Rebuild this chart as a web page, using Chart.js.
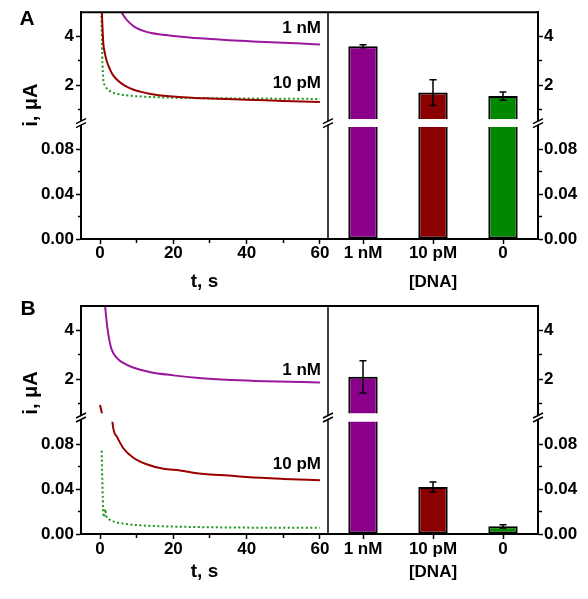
<!DOCTYPE html>
<html><head><meta charset="utf-8">
<script src="https://cdn.jsdelivr.net/npm/chart.js@4.4.1/dist/chart.umd.min.js"></script>
<style>
html,body{margin:0;padding:0;background:#fff;width:588px;height:599px;overflow:hidden}
canvas{position:absolute;left:0}
</style></head><body>
<canvas id="cA" width="588" height="293" style="top:0px"></canvas>
<canvas id="cB" width="588" height="306" style="top:293px"></canvas>
<script>
// ---------- data ----------
const categories = ['1 nM', '10 pM', '0'];
const timeTicks = [0, 20, 40, 60];
const upperTicks = [2, 4];
const lowerTicks = [0, 0.04, 0.08];

// Panel A transients (t in s, i in µA)
const tA_1nM  = [5.5, 6, 7, 8, 9, 10, 12, 14, 16, 18, 20, 25, 30, 35, 40, 45, 50, 55, 60];
const iA_1nM  = [5.15, 4.97, 4.74, 4.57, 4.44, 4.34, 4.22, 4.14, 4.09, 4.06, 4.02, 3.95, 3.9, 3.85, 3.81, 3.77, 3.74, 3.71, 3.67];
const tA_10pM = [0.4, 0.6, 0.9, 1.2, 1.8, 2.7, 3.5, 4.5, 6, 7.5, 9, 11, 13.5, 16, 20, 25, 30, 40, 50, 60];
const iA_10pM = [5.4, 4.6, 3.7, 3.4, 3.0, 2.65, 2.42, 2.24, 2.05, 1.92, 1.82, 1.73, 1.64, 1.58, 1.53, 1.48, 1.45, 1.4, 1.35, 1.3];
const tA_0    = [0.3, 0.6, 0.9, 1.3, 1.8, 2.5, 3.5, 5, 7, 10, 14, 20, 30, 40, 50, 60];
const iA_0    = [5.4, 3.2, 2.2, 2.0, 1.87, 1.77, 1.69, 1.63, 1.58, 1.54, 1.51, 1.48, 1.46, 1.45, 1.44, 1.43];

// Panel B transients
const tB_1nM  = [1.3, 2, 2.6, 3.2, 4.5, 6, 9, 13.5, 20, 27, 36, 45, 60];
const iB_1nM  = [5.1, 4.1, 3.55, 3.2, 2.89, 2.7, 2.48, 2.3, 2.16, 2.05, 1.97, 1.92, 1.87];
const tB_10pM = [0, 0.55, 1.2, 2, 3, 3.4, 4.5, 6.4, 9, 12.7, 17.3, 21.8, 26.4, 30, 35, 40, 50, 60];
const iB_10pM = [0.95, 0.6, 0.38, 0.22, 0.13, 0.099, 0.087, 0.076, 0.068, 0.062, 0.058, 0.0565, 0.054, 0.053, 0.052, 0.0507, 0.049, 0.0477];
const tB_0    = [0.45, 0.6, 0.9, 1.1, 1.4, 1.7, 2.5, 3.6, 6.4, 10.9, 17.3, 26, 35, 45, 60];
const iB_0    = [0.074, 0.05, 0.018, 0.015, 0.022, 0.016, 0.013, 0.0112, 0.0092, 0.0077, 0.0068, 0.0062, 0.0058, 0.0056, 0.0055];

// Bar values and errors
const barsA = [3.6, 1.69, 1.55];
const errA  = [0.06, 0.53, 0.17];
const barsB = [2.1, 0.0418, 0.0068];
const errB  = [0.66, 0.0045, 0.0015];

// ---------- styles ----------
const FONT = "'Liberation Sans', Arial, Helvetica, sans-serif";
const LINE_COL = {p: '#9b169b', r: '#990000', g: '#1a961a'};
const BAR_COL = ['#8b008b', '#8b0000', '#008800'];
const tickFont = {family: FONT, size: 17, weight: 'bold'};

function pts(t, v) { return t.map((x, k) => ({x: x, y: v[k]})); }
function near(list, v) { return list.some(t => Math.abs(t - v) < 1e-9); }

function lineSet(t, v, color, dotted, yID) {
  return {type: 'line', data: pts(t, v), xAxisID: 'xt', yAxisID: yID,
    borderColor: color, borderWidth: 2, borderDash: dotted ? [2, 2.5] : [],
    pointRadius: 0, cubicInterpolationMode: 'monotone', tension: 0.4, fill: false, order: 0};
}
function barSet(vals, yID) {
  return {type: 'bar', data: vals, xAxisID: 'xc', yAxisID: yID,
    backgroundColor: BAR_COL, borderColor: '#000', borderWidth: 2, borderSkipped: false,
    grouped: false, barPercentage: 0.42, categoryPercentage: 1, order: 1};
}

// minor ticks drawn shorter via a dash pattern
function minorDash(pos, isMinor) {
  return c => {
    if (!c.tick || !isMinor(c.tick.value)) return [];
    return pos === 'left' ? [0, 2, 20, 0] : [3, 20];
  };
}

function makeY(pos, seg, wt, width, pad) {
  const isTop = seg === 'top', isGap = seg === 'gap';
  const base = {type: 'linear', axis: 'y', position: pos, stack: pos,
    stackWeight: isTop ? 107 : (isGap ? 8 : 112), weight: wt, z: 1,
    afterFit: s => { s.width = width; },
    border: {display: true, color: '#000', width: 2}};
  if (isGap) {
    return Object.assign(base, {min: 0, max: 1, ticks: {display: false}, grid: {display: false}});
  }
  const labels = isTop ? upperTicks : lowerTicks;
  return Object.assign(base, {
    min: isTop ? 0.6 : 0, max: isTop ? 5 : 0.1,
    ticks: {stepSize: isTop ? 1 : 0.02, includeBounds: false, autoSkip: false, padding: pad,
      color: '#000', font: tickFont,
      callback: v => near(labels, v) ? (isTop ? String(v) : v.toFixed(2)) : ''},
    grid: {display: true, drawOnChartArea: false, drawTicks: true, tickLength: 5, tickWidth: 1.5,
      tickBorderDash: minorDash(pos, v => !near(labels, v)),
      tickColor: c => (c.tick && ((isTop && c.tick.value > 4.99) || (!isTop && c.tick.value > 0.099))) ? 'rgba(0,0,0,0)' : '#000'}
  });
}

function makeScales(P) {
  const titleFont = {family: FONT, size: 17, weight: 'bold'};
  return {
    xt: {type: 'linear', axis: 'x', position: 'bottom', stack: 'bottom', stackWeight: 247, weight: 1, z: 1,
      min: -5.2, max: 62.2, offset: false,
      afterFit: s => { s.height = P.xh; },
      ticks: {stepSize: 10, includeBounds: false, autoSkip: false, maxRotation: 0, padding: P.xpad,
        color: '#000', font: tickFont, callback: v => near(timeTicks, v) ? String(v) : ''},
      grid: {drawOnChartArea: false, tickLength: 5, tickWidth: 1.5, tickColor: '#000', offset: false,
        tickBorderDash: minorDash('bottom', v => !near(timeTicks, v))},
      border: {display: true, color: '#000', width: 2},
      title: {display: true, text: 't, s', color: '#000', font: {family: FONT, size: 19, weight: 'bold'}, padding: {top: 0, bottom: P.tpad}}},
    xc: {type: 'category', axis: 'x', position: 'bottom', stack: 'bottom', stackWeight: 210, weight: 2, z: 1,
      offset: true,
      afterFit: s => { s.height = P.xh; },
      ticks: {autoSkip: false, maxRotation: 0, padding: P.xpad, color: '#000', font: tickFont},
      grid: {drawOnChartArea: false, tickLength: 5, tickWidth: 1.5, tickColor: '#000', offset: false},
      border: {display: true, color: '#000', width: 2},
      title: {display: true, text: '[DNA]', color: '#000', font: titleFont, padding: {top: 0, bottom: P.tpad}}},
    ylt: makeY('left', 'top', 3, 81, 2),
    ylg: makeY('left', 'gap', 2, 81, 2),
    ylb: makeY('left', 'bot', 1, 81, 2),
    yrt: makeY('right', 'top', 1, 50, 1),
    yrg: makeY('right', 'gap', 2, 50, 1),
    yrb: makeY('right', 'bot', 3, 50, 1)
  };
}

function decor(P, bars, errs) {
  return {
    id: 'decor',
    beforeDatasetDraw(chart, args) {
      const m = args.meta, xs = chart.scales[m.xAxisID], ys = chart.scales[m.yAxisID];
      const c = chart.ctx;
      c.save(); c.beginPath(); c.rect(xs.left, ys.top, xs.right - xs.left, ys.bottom - ys.top); c.clip();
    },
    afterDatasetDraw(chart) { chart.ctx.restore(); },
    afterDatasetsDraw(chart) {
      const c = chart.ctx, xc = chart.scales.xc;
      c.save(); c.strokeStyle = '#000'; c.lineWidth = 1.5;
      bars.forEach((v, i) => {
        const ys = v > 0.1 ? chart.scales.yrt : chart.scales.yrb;
        const x = xc.getPixelForValue(i);
        const y1 = ys.getPixelForValue(v + errs[i]), y2 = ys.getPixelForValue(v - errs[i]);
        c.beginPath();
        c.moveTo(x, y1); c.lineTo(x, y2);
        c.moveTo(x - 3.5, y1); c.lineTo(x + 3.5, y1);
        c.moveTo(x - 3.5, y2); c.lineTo(x + 3.5, y2);
        c.stroke();
      });
      c.restore();
    },
    afterDraw(chart) {
      const c = chart.ctx, a = chart.chartArea, xt = chart.scales.xt, g = chart.scales.ylg;
      c.save();
      c.strokeStyle = '#000';
      // top frame and middle divider
      c.lineWidth = 2;
      c.beginPath(); c.moveTo(a.left - 1, a.top); c.lineTo(a.right + 1, a.top); c.stroke();
      c.lineWidth = 1.5;
      c.beginPath(); c.moveTo(xt.right, a.top); c.lineTo(xt.right, a.bottom); c.stroke();
      // axis break marks
      const yc = (g.top + g.bottom) / 2;
      [a.left, xt.right, a.right].forEach(x => {
        c.fillStyle = '#fff';
        c.beginPath();
        c.moveTo(x - 5, yc + 1); c.lineTo(x + 5, yc - 4); c.lineTo(x + 5, yc - 1); c.lineTo(x - 5, yc + 4);
        c.closePath(); c.fill();
        c.lineWidth = 1.5;
        c.beginPath();
        c.moveTo(x - 5, yc + 0.5); c.lineTo(x + 5, yc - 4.5);
        c.moveTo(x - 5, yc + 4.5); c.lineTo(x + 5, yc - 0.5);
        c.stroke();
      });
      // texts
      c.fillStyle = '#000';
      c.font = 'bold 21px ' + FONT;
      c.textAlign = 'center'; c.textBaseline = 'middle';
      c.fillText(P.letter, P.letterX, P.letterY);
      c.save();
      c.translate(P.ytX, a.top + P.ytDy);
      c.rotate(-Math.PI / 2);
      c.font = 'bold 20px ' + FONT;
      c.fillText('i, \u03bcA', 0, 0);
      c.restore();
      c.font = 'bold 17px ' + FONT;
      c.textAlign = 'right';
      c.fillText('1 nM', xt.right - 7, a.top + P.l1);
      c.fillText('10 pM', xt.right - 7, a.top + P.l2);
      c.restore();
    }
  };
}

function build(id, P, lines, bars, errs) {
  const datasets = [];
  lines.forEach(L => {
    datasets.push(lineSet(L[0], L[1], L[2], L[3], 'ylt'));
    datasets.push(lineSet(L[0], L[1], L[2], L[3], 'ylb'));
  });
  datasets.push(barSet(bars, 'yrt'));
  datasets.push(barSet(bars, 'yrb'));
  return new Chart(document.getElementById(id), {
    type: 'bar',
    data: {labels: categories, datasets: datasets},
    options: {
      responsive: false, animation: false, devicePixelRatio: 1,
      layout: {padding: {top: P.top, left: 0, right: 0, bottom: 0}},
      plugins: {legend: {display: false}, tooltip: {enabled: false}},
      scales: makeScales(P)
    },
    plugins: [decor(P, bars, errs)]
  });
}

build('cA', {top: 12, xh: 54, xpad: -1, tpad: 0, letter: 'A', letterX: 27, letterY: 19, ytX: 31, ytDy: 93, l1: 16, l2: 71},
  [[tA_1nM, iA_1nM, LINE_COL.p, false], [tA_10pM, iA_10pM, LINE_COL.r, false], [tA_0, iA_0, LINE_COL.g, true]],
  barsA, errA);
build('cB', {top: 13, xh: 65, xpad: 0, tpad: 16, letter: 'B', letterX: 28, letterY: 16, ytX: 31, ytDy: 87, l1: 64, l2: 158},
  [[tB_1nM, iB_1nM, LINE_COL.p, false], [tB_10pM, iB_10pM, LINE_COL.r, false], [tB_0, iB_0, LINE_COL.g, true]],
  barsB, errB);
</script>
</body></html>
